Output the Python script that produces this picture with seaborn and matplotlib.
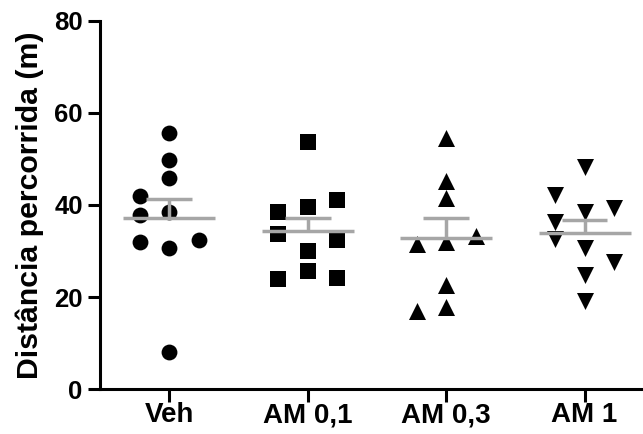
import numpy as np
import pandas as pd
import matplotlib
matplotlib.use("Agg")
import matplotlib.pyplot as plt
import seaborn as sns

# Distance travelled per animal (m), one list per treatment group
grupos = ["Veh", "AM 0,1", "AM 0,3", "AM 1"]
veh = [38.4, 55.6, 30.6, 42.0, 49.7, 32.4, 8.0, 45.9, 37.8, 32.0]
am_01 = [39.5, 25.7, 53.7, 38.5, 30.1, 41.1, 33.6, 32.4, 23.9, 24.1]
am_03 = [45.3, 32.0, 54.5, 31.5, 22.6, 33.3, 41.6, 17.9, 17.1]
am_1 = [38.5, 48.2, 42.1, 30.6, 39.3, 24.8, 36.4, 19.2, 27.7, 32.7]
y_ticks = [0, 20, 40, 60, 80]

valores = [veh, am_01, am_03, am_1]
marcadores = {"Veh": "o", "AM 0,1": "s", "AM 0,3": "^", "AM 1": "v"}
tamanhos = {"Veh": 130, "AM 0,1": 118, "AM 0,3": 150, "AM 1": 150}

CINZA = "#A6A6A6"
SLOT = 0.213   # horizontal spacing between columns of points
GAP = 3.65     # minimum vertical distance between points in one column


def column_slots(vals, gap):
    """Spread overlapping points into side columns (centre first, then alternate sides)."""
    placed = {}
    counts = {-1: 0, 1: 0}
    slots = []
    for v in vals:
        def free(k):
            return all(abs(v - u) >= gap for u in placed.get(k, []))
        if free(0):
            k = 0
        else:
            side = -1 if counts[-1] <= counts[1] else 1
            k = next(s for s in (side, -side, 2 * side, -2 * side) if free(s))
            counts[1 if k > 0 else -1] += 1
        placed.setdefault(k, []).append(v)
        slots.append(k)
    return slots


linhas = []
for i, (g, vals) in enumerate(zip(grupos, valores)):
    for v, k in zip(vals, column_slots(vals, GAP)):
        linhas.append({"grupo": g, "valor": v, "x": i + k * SLOT})
df = pd.DataFrame(linhas)

sns.set_theme(style="ticks")
plt.rcParams["font.family"] = ["Liberation Sans", "DejaVu Sans"]
plt.rcParams["font.weight"] = "bold"
for chave in ("text.color", "axes.labelcolor", "xtick.color", "ytick.color", "axes.edgecolor"):
    plt.rcParams[chave] = "black"

fig = plt.figure(figsize=(6.43, 4.34), dpi=100)
ax = fig.add_axes([100 / 643, 0.103, 1 - 100 / 643, 0.8493])

for g in grupos:
    sub = df[df["grupo"] == g]
    sns.scatterplot(data=sub, x="x", y="valor", marker=marcadores[g],
                    color="black", s=tamanhos[g], linewidth=0, legend=False,
                    ax=ax, zorder=2)

# Mean line with upper SEM bar for each group
for i, vals in enumerate(valores):
    arr = np.asarray(vals)
    media = arr.mean()
    sem = arr.std(ddof=1) / np.sqrt(len(arr))
    ax.hlines(media, i - 0.332, i + 0.332, color=CINZA, lw=2.5, zorder=3)
    ax.vlines(i, media, media + sem, color=CINZA, lw=2.5, zorder=3)
    ax.hlines(media + sem, i - 0.165, i + 0.165, color=CINZA, lw=2.5, zorder=3)

ax.set_xlim(-0.5, 3.422)
ax.set_ylim(0, 80)
ax.set_xticks(range(len(grupos)))
ax.set_xticklabels(grupos, fontsize=20, fontweight="bold")
ax.set_yticks(y_ticks)
ax.set_yticklabels([str(t) for t in y_ticks], fontsize=18.5, fontweight="bold")
ax.set_xlabel("")
ax.set_ylabel("Distância percorrida (m)", fontsize=21.8, fontweight="bold", labelpad=7)

for side in ("top", "right"):
    ax.spines[side].set_visible(False)
for side in ("left", "bottom"):
    ax.spines[side].set_linewidth(2.2)
    ax.spines[side].set_capstyle("projecting")
ax.tick_params(axis="both", length=9, width=2.2, pad=3.5)
ax.tick_params(axis="x", pad=0.5)
ax.grid(False)

fig.savefig("out.png", dpi=100)
